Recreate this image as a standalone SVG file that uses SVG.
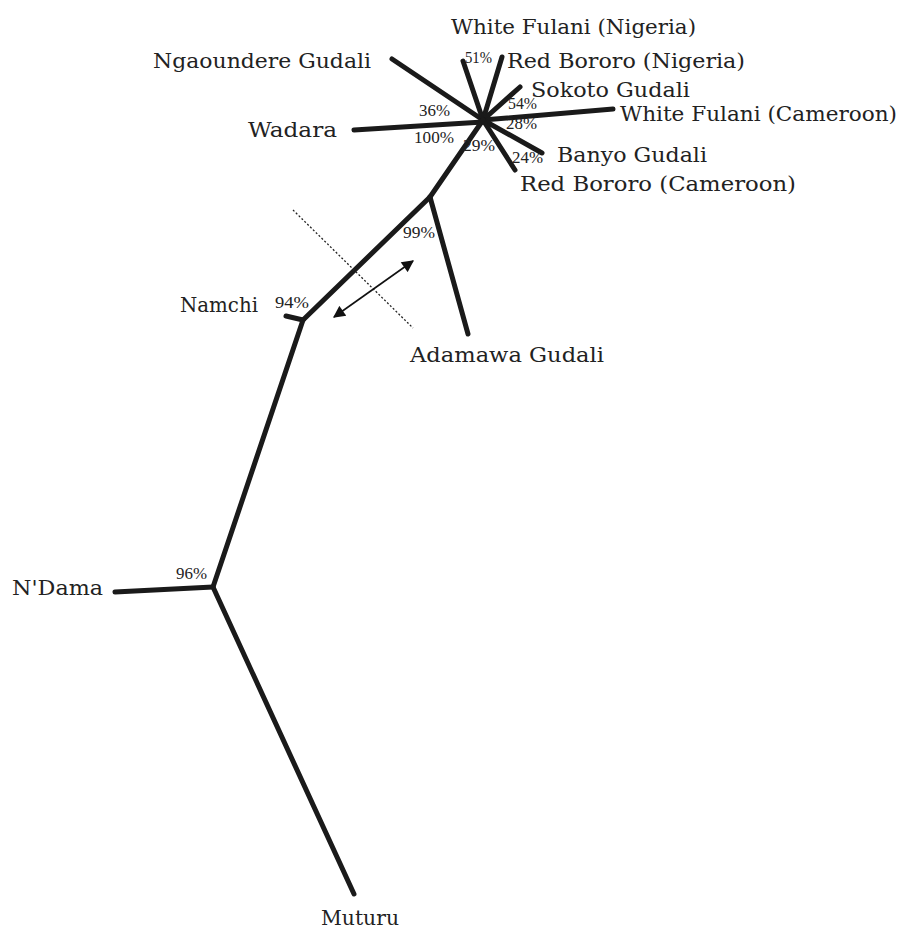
<svg xmlns="http://www.w3.org/2000/svg" width="902" height="931" viewBox="0 0 902 931">
<style>
.br{stroke:#1a1a1a;stroke-width:5;stroke-linecap:round;fill:none}
.lb{font-family:"DejaVu Serif","Liberation Serif",serif;font-size:21px;fill:#222}
.pc{font-family:"Liberation Serif",serif;font-size:16px;fill:#222}
</style>
<defs>
<marker id="ah" viewBox="0 0 10 10" refX="9" refY="5" markerWidth="14" markerHeight="12" orient="auto-start-reverse" markerUnits="userSpaceOnUse">
<path d="M0,0 L10,5 L0,10 z" fill="#111"/>
</marker>
</defs>
<rect width="902" height="931" fill="#fff"/>
<g id="connectors">
<line class="br" x1="483" y1="120" x2="392" y2="59"/>
<line class="br" x1="483" y1="120" x2="463" y2="61"/>
<line class="br" x1="483" y1="120" x2="502" y2="57"/>
<line class="br" x1="483" y1="120" x2="520" y2="87"/>
<line class="br" x1="483" y1="120" x2="613" y2="109"/>
<line class="br" x1="483" y1="122" x2="354" y2="130"/>
<line class="br" x1="483" y1="120" x2="542" y2="153"/>
<line class="br" x1="483" y1="120" x2="515" y2="170"/>
<line class="br" x1="483" y1="120" x2="430" y2="197"/>
<line class="br" x1="430" y1="197" x2="468" y2="334"/>
<line class="br" x1="430" y1="197" x2="303" y2="320"/>
<line class="br" x1="303" y1="320" x2="286" y2="316"/>
<line class="br" x1="303" y1="320" x2="213" y2="587"/>
<line class="br" x1="213" y1="587" x2="115" y2="592"/>
<line class="br" x1="213" y1="587" x2="354" y2="894"/>
<line x1="293" y1="210" x2="413" y2="328" stroke="#222" stroke-width="1.3" stroke-dasharray="2,2"/>
<line x1="334" y1="317" x2="413" y2="261" stroke="#111" stroke-width="1.6" marker-start="url(#ah)" marker-end="url(#ah)"/>
</g>
<g id="n-wfn"><text class="lb" x="451" y="34" textLength="245" lengthAdjust="spacingAndGlyphs">White Fulani (Nigeria)</text></g>
<g id="n-rbn"><text class="lb" x="507" y="68" textLength="238" lengthAdjust="spacingAndGlyphs">Red Bororo (Nigeria)</text></g>
<g id="n-ng"><text class="lb" x="153" y="68" textLength="218" lengthAdjust="spacingAndGlyphs">Ngaoundere Gudali</text></g>
<g id="n-sg"><text class="lb" x="531" y="97" textLength="159" lengthAdjust="spacingAndGlyphs">Sokoto Gudali</text></g>
<g id="n-wfc"><text class="lb" x="620" y="121" textLength="277" lengthAdjust="spacingAndGlyphs">White Fulani (Cameroon)</text></g>
<g id="n-wad"><text class="lb" x="248" y="137" textLength="89" lengthAdjust="spacingAndGlyphs">Wadara</text></g>
<g id="n-bg"><text class="lb" x="557" y="162" textLength="150" lengthAdjust="spacingAndGlyphs">Banyo Gudali</text></g>
<g id="n-rbc"><text class="lb" x="520" y="191" textLength="276" lengthAdjust="spacingAndGlyphs">Red Bororo (Cameroon)</text></g>
<g id="n-nam"><text class="lb" x="180" y="312" textLength="78" lengthAdjust="spacingAndGlyphs">Namchi</text></g>
<g id="n-ada"><text class="lb" x="410" y="362" textLength="194" lengthAdjust="spacingAndGlyphs">Adamawa Gudali</text></g>
<g id="n-nd"><text class="lb" x="12" y="595" textLength="91" lengthAdjust="spacingAndGlyphs">N'Dama</text></g>
<g id="n-mut"><text class="lb" x="321" y="925" textLength="78" lengthAdjust="spacingAndGlyphs">Muturu</text></g>
<g id="support">
<text class="pc" x="465" y="63" textLength="27" lengthAdjust="spacingAndGlyphs">51%</text>
<text class="pc" x="419" y="116" textLength="31" lengthAdjust="spacingAndGlyphs">36%</text>
<text class="pc" x="508" y="109" textLength="29" lengthAdjust="spacingAndGlyphs">54%</text>
<text class="pc" x="506" y="129" textLength="31" lengthAdjust="spacingAndGlyphs">28%</text>
<text class="pc" x="414" y="143" textLength="40" lengthAdjust="spacingAndGlyphs">100%</text>
<text class="pc" x="463" y="151" textLength="32" lengthAdjust="spacingAndGlyphs">29%</text>
<text class="pc" x="512" y="163" textLength="31" lengthAdjust="spacingAndGlyphs">24%</text>
<text class="pc" x="403" y="238" textLength="32" lengthAdjust="spacingAndGlyphs">99%</text>
<text class="pc" x="275" y="308" textLength="34" lengthAdjust="spacingAndGlyphs">94%</text>
<text class="pc" x="176" y="579" textLength="31" lengthAdjust="spacingAndGlyphs">96%</text>
</g>
</svg>
